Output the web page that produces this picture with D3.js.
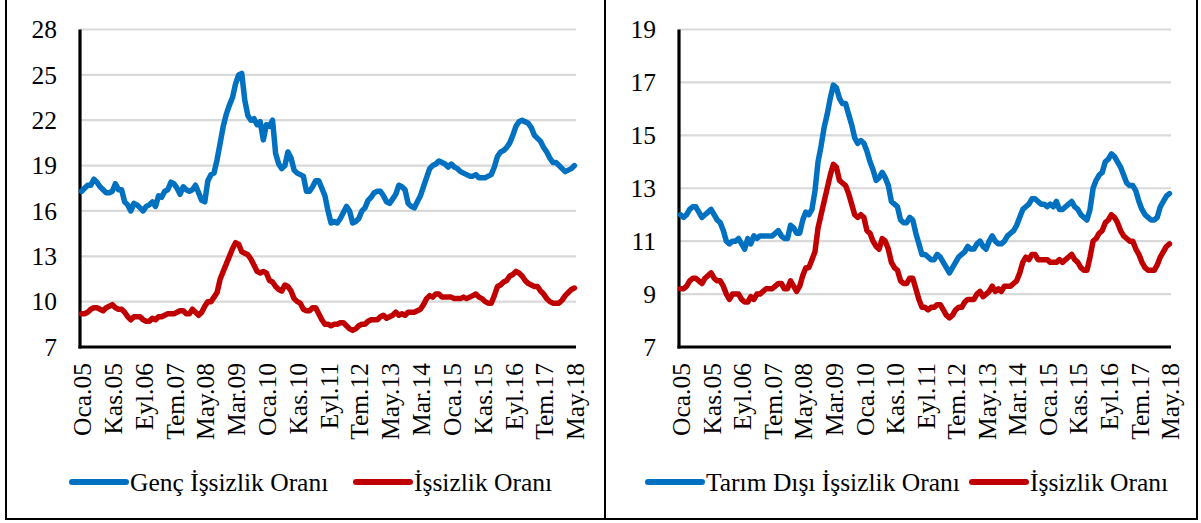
<!DOCTYPE html>
<html>
<head>
<meta charset="utf-8">
<script src="https://cdnjs.cloudflare.com/ajax/libs/d3/7.8.5/d3.min.js"></script>
<style>
  body { margin: 0; background: #fff; }
  svg { display: block; }
  text { font-family: "Liberation Serif", "Times New Roman", serif; fill: #000; }
</style>
</head>
<body>
<svg id="chart" width="1201" height="523"></svg>
<script>
// Turkish month abbreviations, years of the sample (Oca.05 - May.18)
const months = ['Oca', 'Şub', 'Mar', 'Nis', 'May', 'Haz', 'Tem', 'Ağu', 'Eyl', 'Eki', 'Kas', 'Ara']
const years = d3.range(2005, 2019)
const lastMonth = 4 // May 2018

// Genç işsizlik oranı (%)
const gencIssizlik = [
  17.3, 17.5, 17.7, 17.7, 18.1, 17.9, 17.6, 17.4, 17.2, 17.2, 17.3, 17.8,
  17.4, 17.4, 16.6, 16.4, 16.0, 16.5, 16.4, 16.2, 16.0, 16.3, 16.4, 16.6,
  16.3, 17.0, 16.9, 17.3, 17.4, 17.9, 17.8, 17.5, 17.1, 17.6, 17.4, 17.3,
  17.4, 17.7, 17.2, 16.7, 16.6, 18.0, 18.4, 18.5, 19.4, 20.5, 21.6, 22.4,
  23.0, 23.5, 24.4, 25.0, 25.1, 23.3, 22.3, 22.0, 22.1, 21.7, 21.9, 20.7,
  21.7, 21.6, 22.0, 19.8, 19.1, 18.8, 19.0, 19.9, 19.5, 18.7, 18.5, 18.4,
  18.3, 17.3, 17.3, 17.6, 18.0, 18.0, 17.5, 17.0, 16.0, 15.2, 15.3, 15.2,
  15.5, 15.9, 16.3, 16.0, 15.2, 15.3, 15.5, 16.0, 16.2, 16.7, 16.9, 17.2,
  17.3, 17.3, 17.0, 16.6, 16.5, 16.8, 17.1, 17.7, 17.6, 17.4, 16.5, 16.3,
  16.2, 16.6, 17.0, 17.6, 18.2, 18.8, 19.0, 19.1, 19.3, 19.2, 19.1, 18.9,
  19.1, 18.9, 18.8, 18.6, 18.5, 18.4, 18.3, 18.3, 18.4, 18.2, 18.2, 18.2,
  18.3, 18.4, 18.9, 19.6, 19.9, 20.0, 20.2, 20.5, 21.0, 21.6, 21.9, 22.0,
  21.9, 21.8, 21.5, 21.0, 20.8, 20.6, 20.2, 19.9, 19.5, 19.2, 19.2, 19.0,
  18.8, 18.6, 18.7, 18.8, 19.0
]

// Tarım dışı işsizlik oranı (%)
const tarimDisiIssizlik = [
  12.0, 11.9, 12.0, 12.2, 12.3, 12.3, 12.1, 11.9, 12.0, 12.1, 12.2, 12.0,
  11.8, 11.7, 11.4, 11.0, 10.9, 11.0, 11.0, 11.1, 10.9, 10.7, 11.1, 10.9,
  11.2, 11.1, 11.2, 11.2, 11.2, 11.2, 11.2, 11.3, 11.4, 11.2, 11.1, 11.1,
  11.6, 11.5, 11.3, 11.3, 11.8, 12.1, 12.0, 12.2, 12.9, 14.0, 14.6, 15.3,
  15.8, 16.4, 16.9, 16.8, 16.4, 16.2, 16.2, 15.8, 15.4, 14.9, 14.7, 14.8,
  14.7, 14.4, 14.0, 13.7, 13.3, 13.4, 13.6, 13.4, 13.1, 12.5, 12.4, 12.3,
  11.8, 11.7, 11.7, 11.9, 11.8, 11.3, 10.9, 10.5, 10.5, 10.4, 10.3, 10.3,
  10.5, 10.4, 10.2, 10.0, 9.8, 10.0, 10.2, 10.4, 10.5, 10.6, 10.8, 10.7,
  10.7, 10.9, 11.0, 10.8, 10.7, 11.0, 11.2, 11.0, 10.9, 10.9, 11.0, 11.2,
  11.3, 11.4, 11.6, 11.9, 12.2, 12.3, 12.4, 12.6, 12.6, 12.5, 12.4, 12.4,
  12.3, 12.4, 12.3, 12.5, 12.2, 12.2, 12.3, 12.4, 12.5, 12.3, 12.2, 12.0,
  11.9, 11.8, 12.2, 13.0, 13.3, 13.5, 13.6, 14.0, 14.1, 14.3, 14.2, 14.0,
  13.8, 13.5, 13.2, 13.1, 13.1, 12.9, 12.5, 12.2, 12.0, 11.9, 11.8, 11.8,
  11.9, 12.3, 12.5, 12.7, 12.8
]

// İşsizlik oranı (%)
const issizlik = [
  9.2, 9.2, 9.3, 9.5, 9.6, 9.6, 9.5, 9.4, 9.6, 9.7, 9.8, 9.6,
  9.5, 9.5, 9.3, 9.0, 8.8, 9.0, 9.0, 9.0, 8.8, 8.7, 8.7, 8.9,
  8.8, 9.0, 9.0, 9.1, 9.2, 9.2, 9.2, 9.3, 9.4, 9.4, 9.2, 9.2,
  9.5, 9.3, 9.1, 9.3, 9.7, 10.0, 10.0, 10.3, 10.6, 11.5, 12.0, 12.5,
  13.0, 13.5, 13.9, 13.8, 13.3, 13.2, 13.1, 12.8, 12.4, 12.0, 11.9, 12.0,
  11.9, 11.4, 11.3, 11.0, 10.8, 10.7, 11.1, 11.0, 10.7, 10.2, 10.0, 9.9,
  9.5, 9.4, 9.4, 9.6, 9.6, 9.2, 8.8, 8.5, 8.5, 8.4, 8.5, 8.5,
  8.6, 8.6, 8.4, 8.2, 8.1, 8.2, 8.4, 8.5, 8.5, 8.7, 8.8, 8.8,
  8.8, 9.0, 9.1, 8.9, 9.0, 9.1, 9.3, 9.1, 9.2, 9.1, 9.3, 9.3,
  9.3, 9.4, 9.5, 9.8, 10.2, 10.4, 10.3, 10.5, 10.5, 10.3, 10.3, 10.3,
  10.3, 10.2, 10.2, 10.2, 10.3, 10.2, 10.3, 10.4, 10.5, 10.3, 10.2, 10.0,
  9.9, 9.9, 10.4, 11.0, 11.1, 11.3, 11.4, 11.7, 11.8, 12.0, 11.9, 11.7,
  11.4, 11.2, 11.1, 11.0, 11.0, 10.7, 10.5, 10.2, 10.0, 9.9, 9.9, 9.9,
  10.1, 10.4, 10.6, 10.8, 10.9
]

const leftTicks = [7, 10, 13, 16, 19, 22, 25, 28]
const rightTicks = [7, 9, 11, 13, 15, 17, 19]

const blue = '#0070c0'
const red = '#c00000'
const fontSize = 25.5

// Category labels "Oca.05" ... "May.18"
const categories = []
years.forEach(y => {
  months.forEach((m, mi) => {
    if (y === 2018 && mi > lastMonth) return
    categories.push(m + '.' + String(y).slice(2))
  })
})

const svg = d3.select('#chart')

// Frame around the two panels (top edge is cropped in the original)
const frame = svg.append('g').attr('stroke', '#000').attr('stroke-width', 2)
frame.append('line').attr('x1', 6).attr('x2', 6).attr('y1', 0).attr('y2', 520)
frame.append('line').attr('x1', 605).attr('x2', 605).attr('y1', 0).attr('y2', 520)
frame.append('line').attr('x1', 1197).attr('x2', 1197).attr('y1', 0).attr('y2', 520)
frame.append('line').attr('x1', 5).attr('x2', 1198).attr('y1', 519).attr('y2', 519)

const drawPanel = ({ left, right, top, bottom, ticks, series, legend }) => {
  const g = svg.append('g')

  const x = d3.scalePoint()
    .domain(categories)
    .range([left, right])
    .padding(0.5)

  const y = d3.scaleLinear()
    .domain([d3.min(ticks), d3.max(ticks)])
    .range([bottom, top])

  // Gridlines
  g.append('g')
    .selectAll('line')
    .data(ticks.filter(t => t !== d3.min(ticks)))
    .join('line')
      .attr('x1', left)
      .attr('x2', right)
      .attr('y1', d => y(d))
      .attr('y2', d => y(d))
      .attr('stroke', '#d9d9d9')
      .attr('stroke-width', 2.2)

  // Y tick labels
  g.append('g')
    .selectAll('text')
    .data(ticks)
    .join('text')
      .attr('x', left - 23)
      .attr('y', d => y(d))
      .attr('dy', '0.34em')
      .attr('text-anchor', 'end')
      .attr('font-size', fontSize)
      .text(d => d)

  // Axis lines
  g.append('line')
    .attr('x1', left).attr('x2', left)
    .attr('y1', top).attr('y2', bottom + 1.5)
    .attr('stroke', '#000').attr('stroke-width', 3.2)
  g.append('line')
    .attr('x1', left - 1.5).attr('x2', right)
    .attr('y1', bottom).attr('y2', bottom)
    .attr('stroke', '#000').attr('stroke-width', 3.2)

  // X tick labels every 10 months
  g.append('g')
    .selectAll('text')
    .data(categories.filter((c, i) => i % 10 === 0))
    .join('text')
      .attr('transform', d => `translate(${x(d) + 1},${bottom + 16}) rotate(-90)`)
      .attr('dy', '0.34em')
      .attr('text-anchor', 'end')
      .attr('font-size', fontSize)
      .text(d => d)

  // Lines
  const line = d3.line()
    .x((d, i) => x(categories[i]))
    .y(d => y(d))

  series.forEach(s => {
    g.append('path')
      .datum(s.values)
      .attr('d', line)
      .attr('fill', 'none')
      .attr('stroke', s.color)
      .attr('stroke-width', 5.5)
      .attr('stroke-linejoin', 'round')
      .attr('stroke-linecap', 'round')
  })

  // Legend
  legend.forEach((l, i) => {
    const s = series[i]
    g.append('line')
      .attr('x1', l.x).attr('x2', l.x + 54)
      .attr('y1', 482).attr('y2', 482)
      .attr('stroke', s.color)
      .attr('stroke-width', 6)
      .attr('stroke-linecap', 'round')
    g.append('text')
      .attr('x', l.x + 58)
      .attr('y', 491)
      .attr('font-size', fontSize)
      .text(s.name)
  })
}

drawPanel({
  left: 80, right: 576, top: 29.5, bottom: 347,
  ticks: leftTicks,
  series: [
    { name: 'Genç İşsizlik Oranı', values: gencIssizlik, color: blue },
    { name: 'İşsizlik Oranı', values: issizlik, color: red }
  ],
  legend: [{ x: 72 }, { x: 356 }]
})

drawPanel({
  left: 679, right: 1171, top: 29.5, bottom: 347,
  ticks: rightTicks,
  series: [
    { name: 'Tarım Dışı İşsizlik Oranı', values: tarimDisiIssizlik, color: blue },
    { name: 'İşsizlik Oranı', values: issizlik, color: red }
  ],
  legend: [{ x: 648 }, { x: 972 }]
})
</script>
</body>
</html>
